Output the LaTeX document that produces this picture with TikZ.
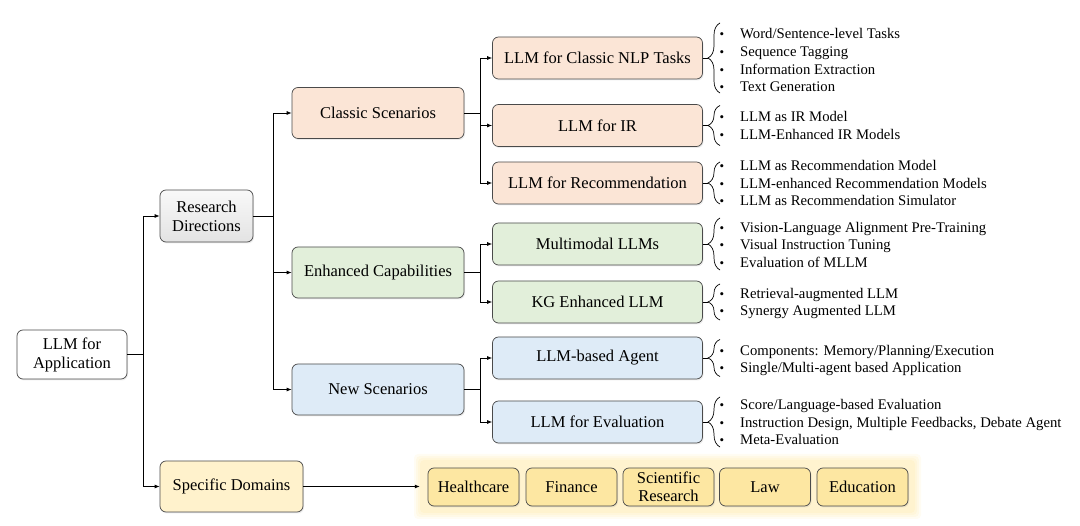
\documentclass[tikz,border=0pt]{standalone}
\usepackage{fontspec}
\setmainfont{Liberation Serif}
\usetikzlibrary{decorations.pathreplacing,arrows.meta,shadows}
\definecolor{peach}{HTML}{FBE5D6}
\definecolor{sage}{HTML}{E2EFDA}
\definecolor{sky}{HTML}{DEEBF7}
\definecolor{cream}{HTML}{FFF2CC}
\definecolor{gold}{HTML}{FDE7A2}
\definecolor{glow}{HTML}{FFF3CF}
\definecolor{edge}{HTML}{4A4A4A}
\begin{document}
\begin{tikzpicture}[x=1pt,y=-1pt,
  box/.style={draw=edge, rounded corners=6pt, line width=0.7pt, align=center, inner sep=0pt,
    font=\fontsize{16.5}{19}\selectfont, drop shadow={shadow xshift=1pt, shadow yshift=-1.5pt, opacity=0.15}},
  lvltwo/.style={box, minimum width=172pt, minimum height=51pt},
  lvlthree/.style={box, minimum width=210pt, minimum height=42pt},
  dombox/.style={box, fill=gold, minimum width=91pt, minimum height=38pt, font=\fontsize{16.5}{17.5}\selectfont},
  arr/.style={-{Latex[length=5pt,width=4pt]}, line width=0.8pt},
  ln/.style={line width=0.8pt},
  br/.style={decorate, decoration={brace, amplitude=12pt}, line width=0.7pt},
  item/.style={anchor=base west, inner sep=0pt, font=\fontsize{14.7}{16}\selectfont},
  bul/.style={anchor=base, inner sep=0pt, font=\fontsize{13}{15}\selectfont}
]
\useasboundingbox (0,0) rectangle (1080,526);

% domain glow
\foreach \g/\o in {6/0.25,4/0.35,2/0.5,0/1}{
  \fill[glow, opacity=\o, rounded corners=4pt] (420-\g,460-\g) rectangle (915+\g,513+\g);
}
\node[minimum width=495pt, minimum height=53pt, inner sep=0pt] (dom) at (667.5,486.5) {};

% main nodes
\node[box, fill=white, minimum width=110pt, minimum height=49pt] (app) at (72,354.5) {LLM for\\Application};
\node[box, top color=gray!5, bottom color=gray!22, minimum width=93pt, minimum height=52pt] (rd) at (206.5,216) {Research\\Directions};
\node[box, fill=cream, minimum width=143pt, minimum height=51pt] (sd) at (231.5,486.5) {Specific Domains};

\node[lvltwo, fill=peach] (cs) at (378,113) {Classic Scenarios};
\node[lvltwo, fill=sage] (ec) at (378,272.5) {Enhanced Capabilities};
\node[lvltwo, fill=sky] (ns) at (378,389.5) {New Scenarios};

\node[lvlthree, fill=peach] (nlp) at (597.5,58) {LLM for Classic NLP Tasks};
\node[lvlthree, fill=peach] (ir) at (597.5,125.5) {LLM for IR};
\node[lvlthree, fill=peach] (rec) at (597.5,183) {LLM for Recommendation};
\node[lvlthree, fill=sage] (mm) at (597.5,244) {Multimodal LLMs};
\node[lvlthree, fill=sage] (kg) at (597.5,302) {KG Enhanced LLM};
\node[lvlthree, fill=sky] (ag) at (597.5,358) {LLM-based Agent};
\node[lvlthree, fill=sky] (ev) at (597.5,422) {LLM for Evaluation};

% domains
\node[dombox] (d1) at (473.5,487) {Healthcare};
\node[dombox] (d2) at (571.5,487) {Finance};
\node[dombox] (d3) at (668.5,487) {Scientific\\Research};
\node[dombox] (d4) at (765,487) {Law};
\node[dombox] (d5) at (862.5,487) {Education};

% connectors level 1
\coordinate (j1) at (143,354.5);
\draw[ln] (app.east) -- (j1);
\draw[arr] (j1) |- (rd.west);
\draw[arr] (j1) |- (sd.west);
\draw[arr] (sd.east) -- (dom.west);

% level 2
\coordinate (j2) at (273,216);
\draw[ln] (rd.east) -- (j2);
\draw[arr] (j2) |- (cs.west);
\draw[arr] (j2) |- (ec.west);
\draw[arr] (j2) |- (ns.west);

% level 3
\coordinate (j3) at (480,113);
\draw[ln] (cs.east) -- (j3);
\draw[arr] (j3) |- (nlp.west);
\draw[arr] (j3) |- (ir.west);
\draw[arr] (j3) |- (rec.west);
\coordinate (j4) at (480,272.5);
\draw[ln] (ec.east) -- (j4);
\draw[arr] (j4) |- (mm.west);
\draw[arr] (j4) |- (kg.west);
\coordinate (j5) at (480,389.5);
\draw[ln] (ns.east) -- (j5);
\draw[arr] (j5) |- (ag.west);
\draw[arr] (j5) |- (ev.west);

% braces
\foreach \n/\c/\h in {nlp/58/35, ir/125.5/20, rec/183/21, mm/244/26, kg/302/18, ag/358/18.5, ev/422/25}{
  \draw[br] (720,\c+\h) -- (720,\c-\h);
  \coordinate (t\n) at (708,\c);
  \draw[line width=0.7pt] (\n.east) -- (t\n);
}

% items
\foreach \y/\t [count=\i] in {
  34/Word\slash Sentence-level Tasks,
  52/Sequence Tagging,
  70/Information Extraction,
  87/Text Generation,
  117/LLM as IR Model,
  135/LLM-Enhanced IR Models,
  166/LLM as Recommendation Model,
  184/LLM-enhanced Recommendation Models,
  201/LLM as Recommendation Simulator,
  228/Vision-Language Alignment Pre-Training,
  245/Visual Instruction Tuning,
  263/Evaluation of MLLM,
  294/Retrieval-augmented LLM,
  311/Synergy Augmented LLM,
  351/Components: Memory\slash Planning\slash Execution,
  368/Single\slash Multi-agent based Application,
  405/Score\slash Language-based Evaluation,
  423/{Instruction Design, Multiple Feedbacks, Debate Agent},
  440/Meta-Evaluation}{
  \node[bul] (b\i) at (722,\y+5) {•};
  \node[item] (i\i) at (740,\y+5) {\t};
}
\end{tikzpicture}
\end{document}
